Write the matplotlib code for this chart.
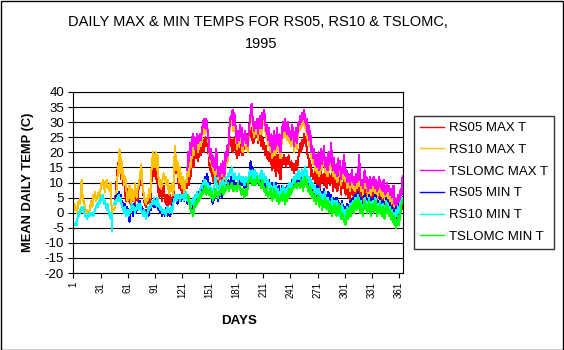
import numpy as np
import matplotlib
matplotlib.use("Agg")
import matplotlib.pyplot as plt
from matplotlib.patches import Rectangle

nan = float("nan")

days_ticks = [1, 31, 61, 91, 121, 151, 181, 211, 241, 271, 301, 331, 361]
y_ticks = list(range(-20, 41, 5))

series_names = ["RS05 MAX T", "RS10 MAX T", "TSLOMC MAX T",
                "RS05 MIN T", "RS10 MIN T", "TSLOMC MIN T"]

rs10_max = [
    2, 3, 1, 2, 0, 3, 4, 3, 5, 11,
    6, 4, 3, 1, 0, 1, -1, 0, 1, 3,
    4, 2, 6, 5, 7, 4, 5, 6, 7, 4,
    8, 10, 9, 11, 8, 7, 10, 11, 8, 9,
    7, 10, 3, -3, nan, 1, 2, 5, 9, 13,
    16, 21, 13, 18, 11, 14, 9, 12, 11, 5,
    4, 7, 9, 5, 3, 8, 6, 4, 10, 7,
    5, 8, 9, 11, 13, 16, 10, 8, 5, 4,
    3, 5, 4, 6, 8, 5, 13, 17, 20, 15,
    18, 20, 14, 19, 12, 9, 11, 8, 10, 12,
    13, 10, 12, 9, 11, 8, 6, 9, 7, 10,
    6, 8, 22, 19, 14, 17, 12, 10, 15, 11,
    8, 12, 9, 6, 11, 10, 13, 16, 12, 18,
    15, 20, 22, 19, 23, 21, 24, 22, 20, 23,
    25, 22, 24, 27, 29, 26, 28, 30, 27, 25,
    20, 17, 19, 15, 18, 13, 16, 12, 18, 14,
    11, 13, 10, 15, 12, 16, 14, 11, 18, 15,
    20, 17, 24, 28, 30, 29, 31, 27, 32, 28,
    24, 21, 25, 22, 27, 23, 26, 20, 24, 22,
    25, 21, 23, 20, 26, 28, 31, 33, 30, 27,
    25, 28, 26, 29, 24, 27, 30, 28, 26, 31,
    29, 32, 28, 25, 27, 22, 26, 23, 20, 24,
    18, 22, 25, 19, 21, 26, 23, 20, 24, 18,
    22, 26, 28, 25, 29, 27, 24, 28, 26, 23,
    25, 22, 27, 24, 20, 23, 26, 21, 25, 28,
    27, 30, 28, 31, 29, 32, 30, 27, 29, 24,
    27, 22, 25, 18, 20, 16, 19, 14, 17, 13,
    15, 18, 12, 16, 19, 14, 17, 20, 15, 13,
    16, 12, 18, 14, 17, 20, 15, 12, 16, 13,
    11, 14, 10, 16, 12, 15, 9, 13, 11, 16,
    14, 10, 12, 8, 11, 9, 7, 10, 12, 8,
    10, 7, 9, 11, 8, 12, 14, 10, 7, 9,
    6, 9, 11, 8, 10, 7, 5, 8, 10, 6,
    9, 7, 10, 8, 6, 9, 5, 7, 10, 8,
    6, 8, 5, 9, 7, 4, 6, 8, 5, 7,
    4, 6, 3, 5, 7, 2, 4, 1, 3, 5,
    2, 4, 6, 3, 5,
]

rs05_max = [nan] * 46 + [
    3, 8, 12, 15,
    17, 14, 16, 11, 13, 9, 12, 7, 4, 8,
    6, 4, 7, 3, 5, 8, 4, 6, 3, 7,
    5, 4, 8, 10, 12, 9, 11, 7, 4, 3,
    2, 5, 3, 4, 6, 3, 9, 13, 16, 12,
    15, 11, 14, 10, 7, 5, 8, 6, 4, 7,
    9, 5, 3, 6, 2, 4, 7, 3, 5, 2,
    4, 6, 16, 18, 13, 17, 10, 8, 12, 9,
    6, 10, 7, 5, 9, 8, 11, 13, 9, 15,
    12, 17, 19, 15, 20, 18, 22, 19, 17, 21,
    22, 19, 21, 24, 20, 23, 25, 22, 24, 21,
    17, 14, 16, 12, 15, 10, 13, 9, 15, 11,
    8, 12, 9, 14, 11, 15, 13, 10, 16, 19,
    21, 18, 23, 25, 22, 24, 20, 23, 25, 21,
    20, 18, 22, 19, 21, 20, 23, 19, 22, 21,
    24, 22, 26, 23, 27, 25, 28, 26, 24, 23,
    24, 27, 25, 28, 23, 26, 24, 27, 22, 25,
    21, 23, 19, 22, 18, 20, 17, 21, 19, 16,
    14, 18, 21, 15, 12, 19, 16, 13, 20, 11,
    15, 18, 16, 19, 17, 15, 18, 16, 19, 17,
    15, 17, 14, 16, 13, 15, 17, 14, 16, 19,
    21, 23, 20, 24, 22, 26, 23, 25, 21, 19,
    18, 15, 17, 12, 14, 11, 13, 10, 15, 12,
    9, 13, 11, 8, 14, 10, 12, 9, 15, 11,
    8, 12, 10, 13, 9, 11, 14, 7, 12, 10,
    8, 11, 7, 13, 9, 12, 6, 10, 8, 11,
    9, 6, 10, 7, 5, 8, 4, 9, 11, 6,
    8, 5, 7, 9, 6, 10, 8, 5, 7, 9,
    4, 6, 8, 5, 7, 9, 3, 6, 8, 4,
    7, 5, 8, 6, 3, 7, 4, 6, 8, 5,
    3, 6, 4, 7, 5, 2, 4, 6, 3, 5,
    2, 4, 1, 3, 5, 0, 2, -1, 1, 3,
    0, 2, 4, 1, 3,
]

tslomc_max = [nan] * 126 + [
    14, 20, 17, 23,
    19, 24, 26, 22, 25, 21, 24, 26, 23, 25,
    26, 24, 27, 29, 31, 28, 30, 31, 28, 26,
    22, 18, 21, 16, 19, 15, 18, 14, 21, 16,
    12, 15, 11, 16, 13, 17, 15, 12, 20, 17,
    22, 19, 26, 30, 32, 31, 34, 29, 33, 30,
    26, 23, 27, 24, 29, 25, 28, 22, 26, 24,
    27, 23, 25, 22, 28, 30, 33, 36, 32, 29,
    27, 30, 28, 31, 26, 29, 32, 30, 28, 33,
    31, 34, 30, 27, 29, 24, 28, 25, 22, 26,
    20, 24, 27, 21, 23, 28, 25, 22, 26, 20,
    24, 28, 30, 27, 31, 29, 26, 30, 28, 25,
    27, 24, 29, 26, 22, 25, 28, 23, 27, 30,
    29, 32, 30, 33, 31, 34, 32, 29, 31, 26,
    29, 24, 27, 20, 22, 18, 21, 16, 19, 15,
    17, 20, 14, 18, 21, 16, 19, 22, 17, 15,
    18, 14, 20, 16, 19, 23, 17, 14, 18, 15,
    13, 16, 12, 18, 14, 17, 11, 15, 13, 19,
    16, 12, 14, 10, 13, 11, 9, 12, 14, 10,
    12, 9, 11, 13, 10, 14, 19, 12, 9, 11,
    8, 11, 14, 10, 12, 9, 7, 10, 12, 8,
    11, 9, 12, 10, 8, 11, 7, 9, 12, 10,
    8, 10, 7, 11, 9, 6, 8, 10, 7, 9,
    6, 8, 5, 7, 9, 3, 5, 2, 4, 6,
    3, 5, 8, 6, 12,
]

rs05_min = [nan] * 46 + [
    3, 5, 6, 4,
    7, 5, 6, 3, 4, 2, 1, 3, 0, 2,
    1, -1, -3, 0, 2, 1, -1, 3, 2, 0,
    1, 3, 2, 4, 3, 1, 2, 0, -1, 1,
    -2, 0, 1, -1, 2, 3, 1, 4, 3, 2,
    4, 2, 5, 3, 1, 2, 0, 1, -1, 0,
    1, -1, 0, 2, -1, 0, 1, -1, 0, 2,
    3, 5, 4, 6, 5, 3, 4, 6, 5, 4,
    6, 5, 4, 6, 7, 5, 3, 6, 4, 2,
    3, 1, 4, 2, 5, 4, 6, 3, 5, 7,
    6, 8, 7, 9, 11, 10, 12, 11, 13, 9,
    8, 10, 7, 5, 3, 4, 6, 5, 7, 6,
    4, 6, 8, 7, 5, 9, 6, 8, 7, 10,
    9, 11, 10, 8, 12, 10, 9, 11, 10, 8,
    10, 9, 11, 8, 10, 12, 9, 11, 10, 8,
    9, 11, 8, 10, 12, 14, 17, 13, 15, 12,
    11, 13, 10, 12, 11, 9, 12, 10, 13, 11,
    10, 12, 9, 7, 10, 8, 11, 9, 7, 10,
    8, 6, 9, 7, 10, 8, 6, 9, 7, 5,
    7, 9, 6, 8, 5, 7, 9, 6, 8, 10,
    7, 9, 11, 8, 10, 12, 9, 11, 13, 10,
    12, 10, 13, 11, 9, 12, 14, 11, 13, 10,
    9, 11, 8, 10, 7, 9, 6, 8, 5, 7,
    9, 6, 8, 5, 7, 4, 6, 8, 5, 3,
    6, 4, 7, 5, 3, 6, 2, 5, 4, 1,
    3, 5, 2, 4, 0, 3, 1, 4, 2, 0,
    2, -1, 1, 3, 0, 2, 4, 1, 3, 5,
    2, 4, 6, 3, 5, 7, 4, 2, 5, 3,
    1, 4, 6, 3, 5, 2, 4, 6, 3, 1,
    3, 5, 2, 4, 6, 3, 1, 4, 2, 5,
    3, 1, 4, 2, 0, 3, 5, 2, 4, 1,
    3, 0, 2, -1, 1, -3, 0, 2, -2, 1,
    3, 0, 2, 4, 5,
]

rs10_min = [
    -4, -4, -4, -3, -4, 0, -1, 1, 0, 2,
    1, 2, 0, -1, -1, -2, -1, 0, -1, -1,
    0, -1, -1, 0, 1, 2, 3, 2, 4, 3,
    5, 4, 6, 5, 3, 4, 2, 1, 3, 0,
    -1, -2, 0, -6, nan, 3, 4, 3, 5, 4,
    6, 4, 5, 3, 2, 1, 0, 2, -1, 1,
    0, -1, 1, 0, 2, 3, 1, 2, 0, 1,
    2, 3, 1, 2, 3, 1, 0, -1, 1, 0,
    -2, -1, 0, 2, 1, 3, 2, 4, 3, 5,
    3, 4, 2, 5, 3, 2, 1, 2, 0, 1,
    0, 1, -1, 0, 2, 1, 0, 1, 2, 0,
    2, 4, 5, 6, 4, 5, 6, 5, 4, 6,
    5, 6, 4, 5, 7, 6, 4, 5, 3, 4,
    2, 3, 5, 3, 4, 6, 5, 7, 4, 6,
    7, 9, 8, 10, 9, 11, 10, 8, 10, 9,
    7, 9, 8, 6, 8, 7, 9, 12, 10, 8,
    9, 7, 10, 8, 9, 11, 8, 10, 9, 12,
    11, 13, 12, 14, 13, 15, 12, 11, 13, 12,
    11, 12, 10, 13, 11, 12, 10, 11, 12, 9,
    10, 12, 11, 9, 12, 14, 13, 12, 14, 11,
    12, 14, 11, 13, 12, 10, 13, 11, 14, 12,
    11, 13, 10, 12, 9, 11, 8, 10, 7, 9,
    6, 8, 10, 7, 9, 6, 8, 5, 7, 6,
    8, 6, 9, 7, 5, 8, 6, 9, 7, 10,
    8, 10, 9, 11, 12, 10, 13, 11, 12, 14,
    11, 13, 12, 14, 11, 13, 15, 12, 14, 11,
    10, 12, 9, 11, 8, 10, 7, 9, 6, 8,
    6, 8, 5, 7, 4, 6, 3, 5, 7, 4,
    3, 5, 2, 4, 1, 3, 5, 2, 4, 0,
    2, 4, 1, 3, -1, 2, 0, 3, 1, -1,
    1, -2, 0, 2, -1, 1, 3, 0, 2, 4,
    1, 3, 5, 2, 4, 6, 3, 1, 4, 2,
    0, 3, 5, 2, 4, 1, 3, 5, 2, 0,
    2, 4, 1, 3, 5, 2, 0, 3, 1, 4,
    2, 0, 3, 1, -1, 2, 4, 1, 3, 0,
    2, -1, 1, -2, 0, -3, -1, 1, -1, 2,
    0, 2, 4, 3, 5,
]

tslomc_min = [nan] * 126 + [
    5, 6, 4, 2,
    0, 1, -1, 0, 3, 2, 4, 3, 5, 4,
    6, 5, 7, 6, 8, 7, 9, 6, 8, 7,
    6, 8, 5, 7, 4, 6, 5, 8, 6, 7,
    5, 7, 6, 8, 7, 9, 6, 8, 7, 9,
    8, 10, 7, 9, 8, 10, 9, 7, 9, 8,
    9, 7, 10, 8, 9, 7, 6, 8, 7, 5,
    7, 8, 6, 9, 11, 10, 12, 11, 9, 10,
    11, 9, 10, 12, 10, 11, 9, 10, 8, 11,
    9, 7, 8, 6, 9, 5, 7, 6, 8, 5,
    4, 6, 8, 5, 7, 4, 6, 3, 5, 4,
    6, 4, 7, 5, 3, 6, 4, 7, 5, 8,
    6, 8, 7, 9, 8, 10, 9, 8, 10, 9,
    10, 8, 11, 9, 7, 10, 12, 9, 11, 8,
    7, 9, 6, 8, 5, 7, 4, 6, 3, 5,
    4, 6, 2, 5, 3, 1, 4, 2, 5, 3,
    1, 4, 2, 0, 3, 1, -1, 2, 0, 3,
    1, -1, 2, 0, 3, 1, -2, 0, -1, -3,
    -2, -4, -1, 1, -2, 0, 2, -1, 1, 3,
    0, 2, 4, 1, 3, 5, 2, 0, 3, 1,
    -1, 2, 4, 1, 3, 0, 2, 4, 1, -1,
    1, 3, 0, 2, 4, 1, -1, 2, 0, 3,
    1, -1, 2, 0, -2, 1, 3, 0, 2, -1,
    1, -2, 0, -3, -1, -4, -2, -5, -3, -1,
    -4, -2, 1, 3, 4,
]

series_values = [rs05_max, rs10_max, tslomc_max, rs05_min, rs10_min, tslomc_min]
series_colors = ["#FF0000", "#FFC000", "#FF00FF", "#0000FF", "#00FFFF", "#00FF00"]

plt.rcParams["font.family"] = ["Liberation Sans", "DejaVu Sans"]

fig = plt.figure(figsize=(5.64, 3.5), dpi=100)
fig.patch.set_facecolor("white")
ax = fig.add_axes([73 / 564, 1 - 273 / 350, 330 / 564, 181 / 350])

for name, vals, col in zip(series_names, series_values, series_colors):
    x = np.arange(1, len(vals) + 1)
    ax.plot(x, vals, color=col, lw=0.72, label=name, antialiased=False)

ax.set_xlim(0.5, 365.5)
ax.set_ylim(-20, 40)
ax.set_yticks(y_ticks)
ax.set_yticklabels([str(v) for v in y_ticks], fontsize=9.5)
ax.set_xticks(days_ticks)
ax.set_xticklabels([str(v) for v in days_ticks], fontsize=7, rotation=90)
ax.yaxis.grid(True, color="black", lw=0.8)
ax.set_axisbelow(True)
ax.tick_params(axis="both", direction="out", length=3.5, width=0.8, color="black", pad=3)
for sp in ax.spines.values():
    sp.set_color("black")
    sp.set_linewidth(0.8)

fig.text(258 / 564, 1 - 22 / 350, "DAILY MAX & MIN TEMPS FOR RS05, RS10 & TSLOMC,",
         ha="center", va="center", fontsize=10.5)
fig.text(261 / 564, 1 - 44 / 350, "1995", ha="center", va="center", fontsize=10.5)
fig.text(28 / 564, 1 - 182 / 350, "MEAN DAILY TEMP (C)", rotation=90, ha="center",
         va="center", fontsize=9.3, fontweight="bold")
fig.text(239 / 564, 1 - 321 / 350, "DAYS", ha="center", va="center",
         fontsize=9.6, fontweight="bold")

leg = fig.legend(loc="upper left", bbox_to_anchor=(414 / 564, 1 - 116 / 350),
                 fontsize=9.5, frameon=True, fancybox=False, shadow=False,
                 handlelength=1.8, handletextpad=0.4, labelspacing=0.72,
                 borderpad=0.45, borderaxespad=0)
leg.get_frame().set_edgecolor("black")
leg.get_frame().set_linewidth(1.0)
for h in leg.get_lines():
    h.set_linewidth(1.0)

fig.patches.append(Rectangle((0.5 / 564, 0.5 / 350), 562.5 / 564, 348.5 / 350,
                             transform=fig.transFigure, fill=False,
                             edgecolor="black", lw=1.0))

fig.savefig("out.png", dpi=100)
